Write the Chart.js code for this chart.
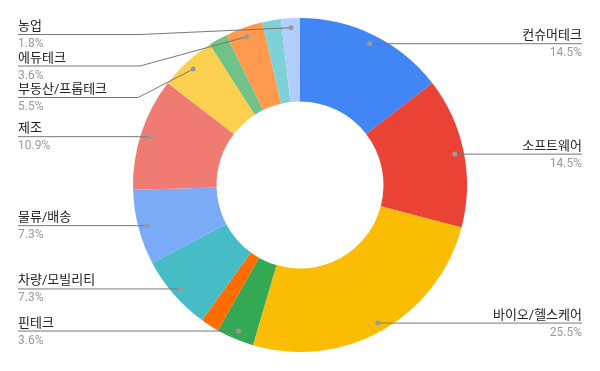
<!DOCTYPE html>
<html>
<head>
<meta charset="utf-8">
<script src="https://cdn.jsdelivr.net/npm/chart.js@4.4.1/dist/chart.umd.min.js"></script>
<style>
    html, body { margin: 0; padding: 0; background: #fff; }
    #wrap { width: 600px; height: 371px; }
</style>
</head>
<body>
<div id="wrap"><canvas id="doughnut-chart" width="600" height="371"></canvas></div>
<script>
    "use strict";

    // Data (counts per sector, clockwise from the top)
    var categories = ["컨슈머테크", "소프트웨어", "바이오/헬스케어", "핀테크", "", "차량/모빌리티",
        "물류/배송", "제조", "부동산/프롭테크", "", "에듀테크", "", "농업"];
    var counts = [8, 8, 14, 2, 1, 4, 4, 6, 3, 1, 2, 1, 1];
    var colors = ["#4285F4", "#EA4335", "#FBBC04", "#34A853", "#FF6D01", "#46BDC6",
        "#7BAAF7", "#F07B72", "#FCD04F", "#71C287", "#FF994D", "#7ED1D7", "#B3CEFB"];

    var FONT = "Roboto, 'Noto Sans CJK KR', sans-serif";

    // Outside labels with leader lines
    var sideLabels = {
        id: 'sideLabels',
        afterDatasetsDraw: function (chart) {
            var ctx = chart.ctx;
            var arcs = chart.getDatasetMeta(0).data;
            var total = counts.reduce(function (a, b) { return a + b; }, 0);
            var items = [];

            arcs.forEach(function (arc, i) {
                if (!categories[i]) return;
                var mid = (arc.startAngle + arc.endAngle) / 2;
                var r = arc.outerRadius - 9;
                items.push({
                    i: i,
                    x: arc.x + Math.cos(mid) * r,
                    y: arc.y + Math.sin(mid) * r,
                    left: Math.cos(mid) < 0
                });
            });

            // stack left labels so they don't overlap
            var left = items.filter(function (d) { return d.left; })
                .sort(function (a, b) { return a.y - b.y; });
            var prev = -Infinity;
            left.forEach(function (d) {
                d.ly = Math.max(d.y, prev + 31.5, 34);
                prev = d.ly;
            });
            items.forEach(function (d) { if (!d.left) d.ly = d.y; });

            ctx.save();
            items.forEach(function (d) {
                var pct = (counts[d.i] / total * 100).toFixed(1) + '%';

                ctx.strokeStyle = '#777';
                ctx.lineWidth = 1;
                ctx.beginPath();
                if (d.left) {
                    ctx.moveTo(18, d.ly + 0.5);
                    if (Math.abs(d.ly - d.y) > 0.5) {
                        ctx.lineTo(Math.min(d.x - 55, 140), d.ly + 0.5);
                    }
                    ctx.lineTo(d.x, d.y + 0.5);
                } else {
                    ctx.moveTo(d.x, d.ly + 0.5);
                    ctx.lineTo(582, d.ly + 0.5);
                }
                ctx.stroke();

                ctx.fillStyle = '#999';
                ctx.beginPath();
                ctx.arc(d.x, d.y + 0.5, 2.5, 0, Math.PI * 2);
                ctx.fill();

                ctx.textAlign = d.left ? 'left' : 'right';
                var tx = d.left ? 18 : 582;
                ctx.textBaseline = 'alphabetic';
                ctx.font = '13px ' + FONT;
                ctx.fillStyle = '#222';
                ctx.fillText(categories[d.i], tx, d.ly - 4);
                ctx.font = '12px ' + FONT;
                ctx.fillStyle = '#999';
                ctx.fillText(pct, tx, d.ly + 13);
            });
            ctx.restore();
        }
    };

    // Doughnut Chart
    var ctx1 = document.getElementById('doughnut-chart').getContext('2d');
    var myChart1 = new Chart(ctx1, {
        type: 'doughnut',
        data: {
            labels: categories,
            datasets: [{
                data: counts,
                backgroundColor: colors,
                borderWidth: 0,
                hoverOffset: 0,
                offset: 0
            }]
        },
        options: {
            responsive: false,
            animation: false,
            cutout: '50%',
            layout: { padding: { top: 18, bottom: 19, left: 0, right: 0 } },
            plugins: {
                legend: { display: false },
                tooltip: { enabled: false }
            }
        },
        plugins: [sideLabels]
    });
</script>
</body>
</html>
